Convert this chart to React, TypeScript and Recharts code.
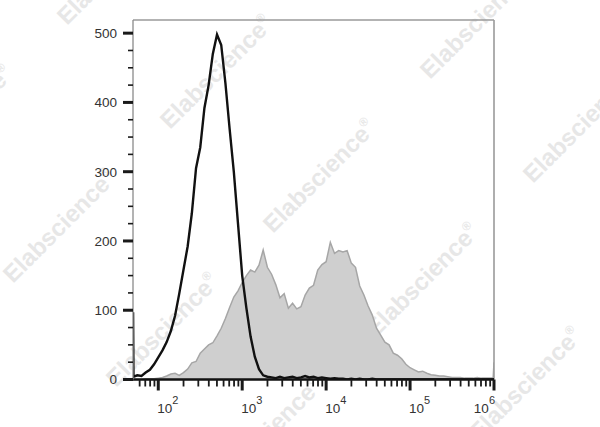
import { ComposedChart, Area, Line, XAxis, YAxis, ReferenceLine } from 'recharts'

// log10 of the fluorescence channel for each histogram bin
const decades = [
  1.7, 1.705, 1.75, 1.8, 1.85, 1.9, 1.95, 2.0, 2.05, 2.1, 2.15, 2.2, 2.25, 2.3, 2.35, 2.4, 2.45, 2.5,
  2.55, 2.6, 2.65, 2.7, 2.75, 2.8, 2.85, 2.9, 2.95, 3.0, 3.05, 3.1, 3.15, 3.2, 3.25, 3.3, 3.35, 3.4,
  3.45, 3.5, 3.55, 3.6, 3.65, 3.7, 3.75, 3.8, 3.85, 3.9, 3.95, 4.0, 4.05, 4.1, 4.15, 4.2, 4.25, 4.3,
  4.35, 4.4, 4.45, 4.5, 4.55, 4.6, 4.65, 4.7, 4.75, 4.8, 4.85, 4.9, 4.95, 5.0, 5.05, 5.1, 5.15, 5.2,
  5.25, 5.3, 5.35, 5.4, 5.45, 5.5, 5.55, 5.6, 5.65, 5.7, 5.75, 5.8, 5.85, 5.9, 5.95, 5.99, 6.0,
]

// isotype control (black outline)
const isotype = [
  97, 4, 6, 5, 10, 14, 22, 32, 42, 54, 70, 92, 124, 158, 192, 240, 305, 335,
  392, 425, 470, 498, 483, 428, 362, 300, 225, 150, 103, 62, 33, 15, 6, 4, 3, 2,
  4, 2, 3, 4, 2, 3, 5, 3, 4, 2, 3, 2, 1, 2, 1, 1, 0, 1,
  0, 1, 0, 0, 1, 0, 0, 0, 0, 0, 0, 0, 0, 0, 0, 0, 0, 0,
  0, 0, 0, 0, 0, 0, 0, 0, 0, 0, 0, 0, 0, 0, 0, 0, 0, 0, 0,
]

// stained sample (grey filled)
const stained = [
  0, 0, 0, 0, 1, 1, 1, 2, 3, 5, 8, 9, 6, 10, 15, 24, 26, 38,
  44, 50, 53, 63, 74, 88, 104, 119, 128, 140, 150, 158, 155, 165, 187, 162, 152, 137,
  118, 124, 103, 110, 102, 105, 122, 132, 136, 158, 166, 170, 198, 182, 186, 184, 186, 168,
  162, 135, 122, 106, 93, 74, 64, 54, 50, 38, 35, 30, 22, 17, 14, 11, 12, 9,
  7, 6, 5, 5, 4, 3, 3, 3, 2, 2, 2, 3, 2, 2, 2, 2, 25,
]

const xMajor = [100, 1000, 10000, 100000, 1000000]
const xMinor = [
  60, 70, 80, 90, 200, 300, 400, 500, 600, 700, 800, 900, 2000, 3000, 4000, 5000, 6000, 7000, 8000,
  9000, 20000, 30000, 40000, 50000, 60000, 70000, 80000, 90000, 200000, 300000, 400000, 500000,
  600000, 700000, 800000, 900000,
]
const yTicks = [
  0, 25, 50, 75, 100, 125, 150, 175, 200, 225, 250, 275, 300, 325, 350, 375, 400, 425, 450, 475, 500,
]

// watermark anchor points (start of the word)
const watermarks = [
  [67, 26], [-90, 180], [170, 130], [430, 80], [13, 284], [273, 234], [533, 184],
  [116, 388], [376, 338], [219, 492], [479, 442],
]

const data = decades.map((d, i) => ({ x: Math.pow(10, d), iso: isotype[i], stained: stained[i] }))

const font = '"Liberation Sans", Arial, sans-serif'

function XTick(props: any) {
  const { x, y, payload } = props
  const v = payload.value
  const exp = Math.round(Math.log10(v))
  const isMajor = Math.abs(Math.log10(v) - exp) < 1e-9
  if (!isMajor) {
    return <line x1={x} x2={x} y1={y} y2={y + 7} stroke="#1a1a1a" strokeWidth={1.8} />
  }
  const last = exp === 6
  return (
    <g>
      <line x1={x} x2={x} y1={y} y2={y + 11} stroke="#1a1a1a" strokeWidth={3} />
      <text
        x={last ? x + 1 : x - 1}
        y={y + 33}
        textAnchor={last ? 'end' : 'start'}
        fontFamily={font}
        fontSize={13.5}
        fill="#333"
      >
        10
        <tspan fontSize={11} dy={-9}>
          {exp}
        </tspan>
      </text>
    </g>
  )
}

function YTick(props: any) {
  const { x, y, payload } = props
  const v = payload.value
  if (v % 100 !== 0) {
    return <line x1={x - 5} x2={x} y1={y} y2={y} stroke="#1a1a1a" strokeWidth={1.6} />
  }
  return (
    <g>
      <line x1={x - 10} x2={x} y1={y} y2={y} stroke="#1a1a1a" strokeWidth={3} />
      <text x={x - 16} y={y} dy="0.36em" textAnchor="end" fontFamily={font} fontSize={13.5} fill="#333">
        {v}
      </text>
    </g>
  )
}

export default function App() {
  return (
    <div style={{ position: 'absolute', left: 0, top: 0, width: 600, height: 427, background: '#fff' }}>
      <svg width={600} height={427} style={{ position: 'absolute', left: 0, top: 0 }}>
        {watermarks.map(([wx, wy], i) => (
          <text
            key={`wm-${i}`}
            x={wx}
            y={wy}
            transform={`rotate(-45 ${wx} ${wy})`}
            fontFamily={font}
            fontWeight="bold"
            fontSize={24}
            fill="#e7e7e7"
          >
            Elabscience
            <tspan fontSize={12} dy={-11}>
              ®
            </tspan>
          </text>
        ))}
      </svg>
      <div style={{ position: 'absolute', left: 0, top: 0 }}>
        <ComposedChart width={600} height={427} data={data} margin={{ top: 20, right: 106, bottom: 0, left: 0 }}>
          <XAxis
            dataKey="x"
            type="number"
            scale="log"
            domain={[50, 1000000]}
            allowDataOverflow
            ticks={[...xMinor, ...xMajor].sort((a, b) => a - b)}
            interval={0}
            height={47.5}
            tickSize={0}
            tickMargin={0}
            tickLine={false}
            axisLine={{ stroke: '#111', strokeWidth: 2.6 }}
            tick={<XTick />}
          />
          <YAxis
            type="number"
            domain={[0, 519]}
            allowDataOverflow
            ticks={yTicks}
            interval={0}
            width={133}
            tickSize={0}
            tickMargin={0}
            tickLine={false}
            axisLine={{ stroke: '#8a8a8a', strokeWidth: 1.3 }}
            tick={<YTick />}
          />
          <ReferenceLine y={519} stroke="#9a9a9a" strokeWidth={1.6} ifOverflow="visible" />
          <ReferenceLine x={1000000} stroke="#9a9a9a" strokeWidth={1.6} ifOverflow="visible" />
          <Area
            dataKey="stained"
            type="linear"
            fill="#cfcfcf"
            fillOpacity={1}
            stroke="#a6a6a6"
            strokeWidth={1.5}
            isAnimationActive={false}
            dot={false}
            activeDot={false}
          />
          <Line
            dataKey="iso"
            type="linear"
            stroke="#111"
            strokeWidth={2.4}
            dot={false}
            activeDot={false}
            isAnimationActive={false}
          />
        </ComposedChart>
      </div>
    </div>
  )
}
